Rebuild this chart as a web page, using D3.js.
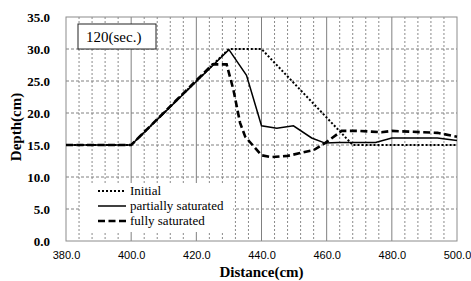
<!DOCTYPE html>
<html>
<head>
<meta charset="utf-8">
<script src="https://cdn.jsdelivr.net/npm/d3@7"></script>
<style>
  html, body { margin: 0; padding: 0; background: #fff; }
  svg { display: block; }
</style>
</head>
<body>
<div id="chart"></div>
<script>
// chart values
const xTicks = [380, 400, 420, 440, 460, 480, 500];
const yTicks = [0, 5, 10, 15, 20, 25, 30, 35];
const timeLabel = '120(sec.)';
const seriesNames = ['Initial', 'partially saturated', 'fully saturated'];

const initialX = [380, 400, 430, 440, 468, 500];
const initialY = [15, 15, 30, 30, 15, 15];

const partialX = [380, 400, 430, 435.4, 440, 444.7, 449.8, 455.4, 459.5, 463.6, 475, 480, 494, 500];
const partialY = [15, 15, 29.9, 25.9, 18.0, 17.6, 18.0, 16.1, 15.3, 15.4, 15.4, 16.1, 16.1, 15.7];

const fullX = [380, 400, 425, 429.3, 431.4, 433.4, 435, 440, 443, 448, 456, 459.5, 464.6, 470, 476.8, 480, 494, 500];
const fullY = [15, 15, 27.6, 27.6, 23.6, 18.5, 16.3, 13.4, 13.1, 13.3, 14.2, 15.3, 17.2, 17.2, 17.0, 17.2, 16.9, 16.3];

const W = 471, H = 281;
const margin = { top: 17, right: 14, bottom: 40, left: 66 };
const innerW = W - margin.left - margin.right;
const innerH = H - margin.top - margin.bottom;

const svg = d3.select('#chart').append('svg')
  .attr('width', W)
  .attr('height', H);

const g = svg.append('g')
  .attr('transform', `translate(${margin.left},${margin.top})`);

const x = d3.scaleLinear().domain([380, 500]).range([0, innerW]);
const y = d3.scaleLinear().domain([0, 35]).range([innerH, 0]);

// minor vertical grid (every 4 cm), dashed
const minorX = d3.range(384, 500, 4).filter(v => v % 20 !== 0);
g.selectAll('line.vminor')
  .data(minorX)
  .enter().append('line')
  .attr('class', 'vminor')
  .attr('x1', d => x(d)).attr('x2', d => x(d))
  .attr('y1', 0).attr('y2', innerH)
  .style('stroke', '#8a8a8a')
  .style('stroke-width', 1)
  .style('stroke-dasharray', '2,2');

// major vertical grid, solid
g.selectAll('line.vmajor')
  .data(xTicks.slice(1, -1))
  .enter().append('line')
  .attr('class', 'vmajor')
  .attr('x1', d => x(d)).attr('x2', d => x(d))
  .attr('y1', 0).attr('y2', innerH)
  .style('stroke', '#808080')
  .style('stroke-width', 1);

// horizontal grid, dashed
g.selectAll('line.hgrid')
  .data(yTicks.slice(1, -1))
  .enter().append('line')
  .attr('class', 'hgrid')
  .attr('x1', 0).attr('x2', innerW)
  .attr('y1', d => y(d)).attr('y2', d => y(d))
  .style('stroke', '#808080')
  .style('stroke-width', 1)
  .style('stroke-dasharray', '3,2');

// plot frame
g.append('rect')
  .attr('x', 0).attr('y', 0)
  .attr('width', innerW).attr('height', innerH)
  .style('fill', 'none')
  .style('stroke', '#8c8c8c')
  .style('stroke-width', 1);

// axes (labels only, the frame is the axis line)
const xAxis = g.append('g')
  .attr('transform', `translate(0,${innerH})`)
  .call(d3.axisBottom(x).tickValues(xTicks).tickSize(0).tickPadding(10).tickFormat(d3.format('.1f')));
xAxis.select('.domain').remove();
xAxis.selectAll('text')
  .style('font-family', '"Liberation Sans", Arial, sans-serif')
  .style('font-size', '11px')
  .style('fill', '#000');

const yAxis = g.append('g')
  .call(d3.axisLeft(y).tickValues(yTicks).tickSize(0).tickPadding(16).tickFormat(d3.format('.1f')));
yAxis.select('.domain').remove();
yAxis.selectAll('text')
  .style('font-family', '"Liberation Serif", "Times New Roman", serif')
  .style('font-size', '13px')
  .style('font-weight', 'bold')
  .style('fill', '#000');

// series lines
const line = d3.line()
  .x(d => x(d[0]))
  .y(d => y(d[1]));

const zip = (xs, ys) => xs.map((v, i) => [v, ys[i]]);

const series = [
  { name: seriesNames[0], pts: zip(initialX, initialY), width: 2, dash: '2,2' },
  { name: seriesNames[1], pts: zip(partialX, partialY), width: 1.5, dash: null },
  { name: seriesNames[2], pts: zip(fullX, fullY), width: 2.6, dash: '7,3.5' }
];

g.selectAll('path.series')
  .data(series)
  .enter().append('path')
  .attr('class', 'series')
  .attr('d', d => line(d.pts))
  .style('fill', 'none')
  .style('stroke', '#000')
  .style('stroke-width', d => d.width)
  .style('stroke-dasharray', d => d.dash);

// time label box
const tBox = g.append('g').attr('transform', 'translate(12,7)');
tBox.append('rect')
  .attr('width', 78).attr('height', 25)
  .style('fill', '#fff')
  .style('stroke', '#222')
  .style('stroke-width', 1);
tBox.append('text')
  .attr('x', 8).attr('y', 18)
  .style('font-family', '"Liberation Serif", "Times New Roman", serif')
  .style('font-size', '15px')
  .text(timeLabel);

// legend, white background, no border
const legend = g.append('g').attr('transform', 'translate(14,166)');
legend.append('rect')
  .attr('width', 153).attr('height', 49)
  .style('fill', '#fff');

const legendItem = legend.selectAll('g.item')
  .data(series)
  .enter().append('g')
  .attr('class', 'item')
  .attr('transform', (d, i) => `translate(0,${8 + i * 15})`);

legendItem.append('line')
  .attr('x1', 18).attr('x2', 46)
  .attr('y1', 0).attr('y2', 0)
  .style('stroke', '#000')
  .style('stroke-width', d => d.width)
  .style('stroke-dasharray', d => d.dash);

legendItem.append('text')
  .attr('x', 50).attr('y', 4)
  .style('font-family', '"Liberation Serif", "Times New Roman", serif')
  .style('font-size', '13px')
  .text(d => d.name);

// axis titles
svg.append('text')
  .attr('x', margin.left + innerW / 2)
  .attr('y', 277)
  .attr('text-anchor', 'middle')
  .style('font-family', '"Liberation Serif", "Times New Roman", serif')
  .style('font-size', '15px')
  .style('font-weight', 'bold')
  .text('Distance(cm)');

svg.append('text')
  .attr('transform', `translate(21,${margin.top + innerH / 2 - 2}) rotate(-90)`)
  .attr('text-anchor', 'middle')
  .style('font-family', '"Liberation Serif", "Times New Roman", serif')
  .style('font-size', '15px')
  .style('font-weight', 'bold')
  .text('Depth(cm)');
</script>
</body>
</html>
